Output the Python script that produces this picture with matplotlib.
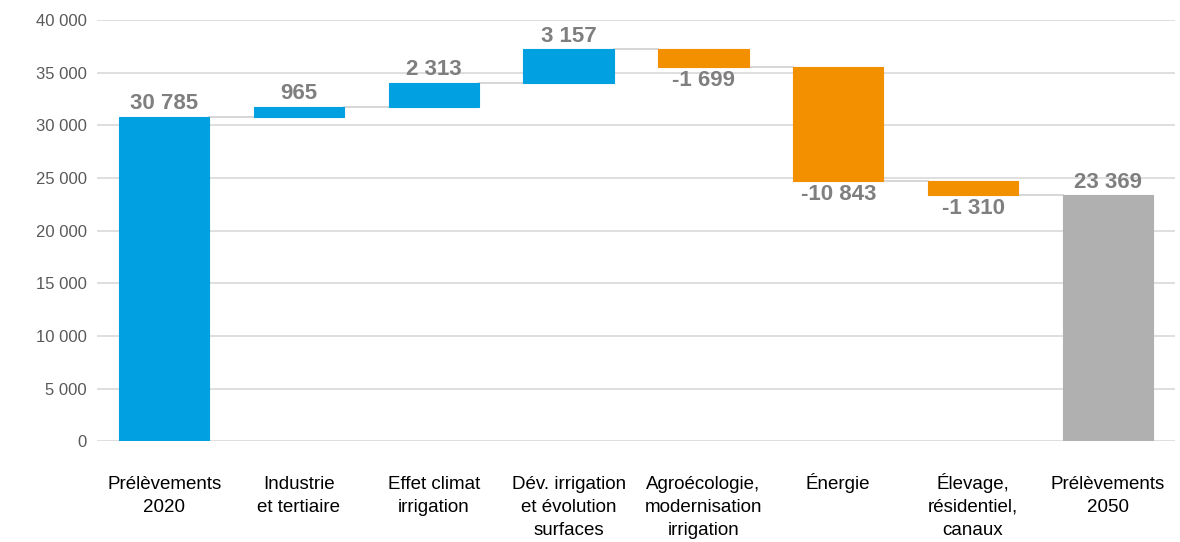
import numpy as np
import matplotlib.pyplot as plt
from matplotlib.transforms import ScaledTranslation

plt.rcParams['font.family'] = ['Liberation Sans', 'DejaVu Sans']

# Données (millions de m3)
categories = ["Prélèvements\n2020", "Industrie\net tertiaire", "Effet climat\nirrigation",
              "Dév. irrigation\net évolution\nsurfaces", "Agroécologie,\nmodernisation\nirrigation",
              "Énergie", "Élevage,\nrésidentiel,\ncanaux", "Prélèvements\n2050"]
values = [30785, 965, 2313, 3157, -1699, -10843, -1310, 23369]
is_total = [True, False, False, False, False, False, False, True]
value_labels = ["30 785", "965", "2 313", "3 157", "-1 699", "-10 843", "-1 310", "23 369"]
yticks = [0, 5000, 10000, 15000, 20000, 25000, 30000, 35000, 40000]

BLUE = '#00A0E1'
ORANGE = '#F39000'
GREY = '#B0B0B0'
TXT = '#7F7F7F'

# Calcul des bases et hauteurs
bottoms, heights, colors = [], [], []
running = 0
for v, tot in zip(values, is_total):
    if tot:
        bottoms.append(0)
        heights.append(v)
        colors.append(BLUE if running == 0 else GREY)
        running = v
    else:
        if v >= 0:
            bottoms.append(running)
            colors.append(BLUE)
        else:
            bottoms.append(running + v)
            colors.append(ORANGE)
        heights.append(abs(v))
        running += v

fig = plt.figure(figsize=(11.8, 5.42), dpi=100)
ax = fig.add_axes([0.082, 0.186, 0.914, 0.777])

x = np.arange(len(values))
w = 0.67
ax.bar(x, heights, bottom=bottoms, width=w, color=colors, edgecolor=colors,
       linewidth=0.8, zorder=3)

# Lignes de liaison
levels = []
running = 0
for v, tot in zip(values, is_total):
    running = v if tot else running + v
    levels.append(running)
for i in range(len(values) - 1):
    ax.plot([x[i] + w / 2, x[i + 1] - w / 2], [levels[i], levels[i]],
            color='#D0D0D0', lw=1.2, zorder=2)

# Étiquettes de valeurs
for i, (v, tot) in enumerate(zip(values, is_total)):
    if tot or v >= 0:
        ax.text(x[i], bottoms[i] + heights[i] + 250, value_labels[i], ha='center', va='bottom',
                fontsize=16, fontweight='bold', color=TXT)
    else:
        ax.text(x[i], bottoms[i] - 250, value_labels[i], ha='center', va='top',
                fontsize=16, fontweight='bold', color=TXT)

ax.set_ylim(0, 40000)
ax.set_xlim(-0.5, len(values) - 0.5)
ax.set_yticks(yticks)
ax.set_yticklabels([f"{t:,}".replace(",", " ") for t in yticks], fontsize=12, color='#595959')
ax.set_xticks(x)
ax.set_xticklabels(categories, fontsize=13.5, color='black', linespacing=1.45)
ax.tick_params(length=0)
ax.tick_params(axis='x', pad=25)
ax.tick_params(axis='y', pad=7)
ax.grid(axis='y', color='#D9D9D9', lw=1.2, zorder=0)
for s in ax.spines.values():
    s.set_visible(False)

# les majuscules accentuées décalent la ligne vers le bas : on remonte
for lbl in ax.get_xticklabels():
    if lbl.get_text().startswith('É'):
        lbl.set_transform(lbl.get_transform() + ScaledTranslation(0, 3 / 100, fig.dpi_scale_trans))

fig.savefig('out.png', dpi=100)
